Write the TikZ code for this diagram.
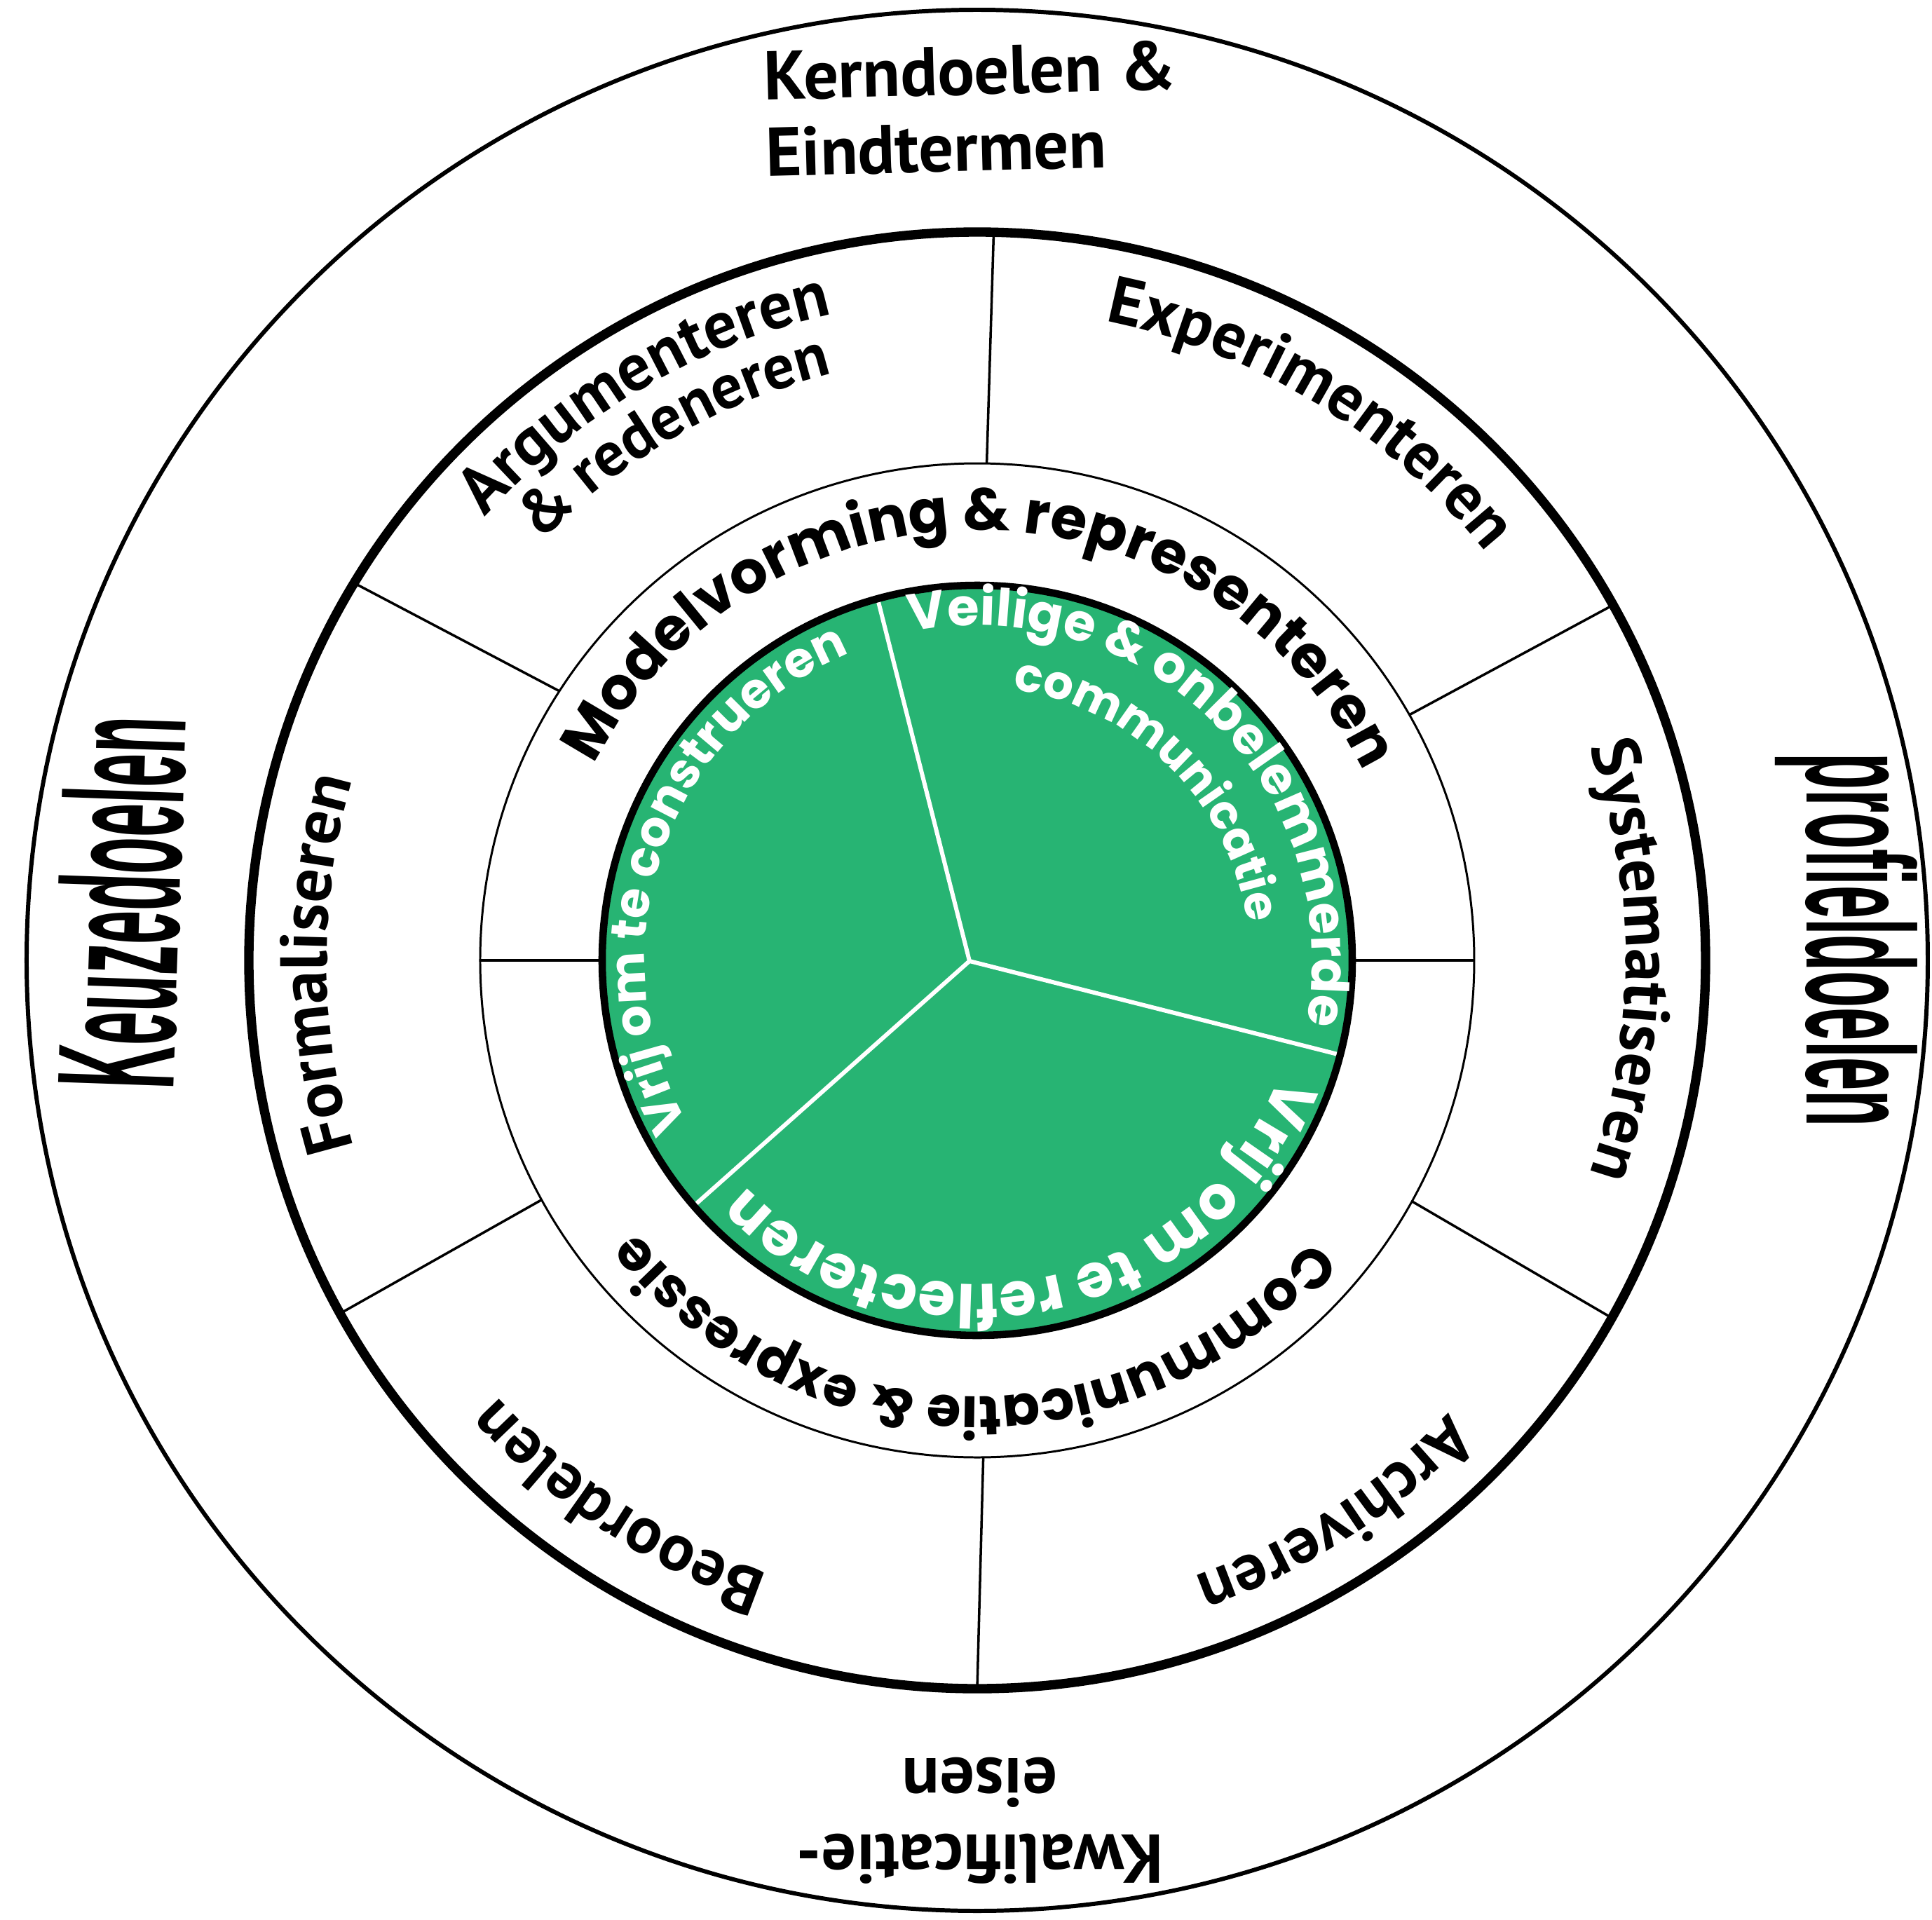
\documentclass[tikz,border=0pt]{standalone}
\usepackage{fontspec}
\usetikzlibrary{decorations.text}

\newfontfamily\ptsans{PT Sans}
\newfontfamily\geosans{Poppins}
\newfontfamily\narrowsans{Liberation Sans}[FakeStretch=0.36]
\newfontfamily\narrowersans{Liberation Sans}[FakeStretch=0.39]
\definecolor{wheelgreen}{RGB}{39,180,115}

\newcommand{\ringfont}{\ptsans\bfseries\fontsize{27}{30}\selectfont}
\newcommand{\bandfont}[1]{\geosans\bfseries\fontsize{#1}{#1}\selectfont}
\newcommand{\corefont}[1]{\color{white}\geosans\bfseries\fontsize{#1}{#1}\selectfont}

\tikzset{
  spoke/.style={line width=1pt},
  whitespoke/.style={white,line width=1.7pt},
  along/.style={decorate,decoration={text along path,text align=center,text={#1}}},
  goal/.style={inner sep=0pt,font=\ptsans\bfseries\fontsize{28}{31}\selectfont},
}

\begin{document}
\begin{tikzpicture}
 \useasboundingbox (-13.94,-13.68) rectangle (13.62,13.70);

 % rings
 \draw[line width=1.7pt] (0,0) circle (13.56);
 \draw[line width=3.8pt] (0,0) circle (10.39);
 \draw[line width=0.85pt] (0,0) circle (7.09);

 % spokes between the skills
 \draw[spoke] (88.9:7.09) -- (88.7:10.39);
 \draw[spoke] (147.2:7.09) -- (148.8:10.39);
 \draw[spoke] (208.8:7.09) -- (209:10.39);
 \draw[spoke] (-89.3:7.09) -- (-90:10.39);
 \draw[spoke] (-29:7.09) -- (-29.4:10.39);
 \draw[spoke] (29.6:7.09) -- (29.2:10.39);
 \draw[spoke] (180:5.35) -- (180:7.09);
 \draw[spoke] (0:5.35) -- (0:7.09);

 % green core
 \fill[wheelgreen] (0,0) circle (5.35);
 \coordinate (hub) at (-0.11,-0.01);
 \draw[whitespoke] (hub) -- (105.4:5.35);
 \draw[whitespoke] (hub) -- (-14.6:5.35);
 \draw[whitespoke] (hub) -- (220.9:5.35);
 \draw[line width=3pt] (0,0) circle (5.35);

 % skills
 \path[along={|\ringfont|Experimenteren}] (93.7:9.30) arc[start angle=93.7,end angle=23.7,radius=9.30];
 \path[along={|\ringfont|Argumenteren}] (150.3:9.45) arc[start angle=150.3,end angle=90.3,radius=9.45];
 \path[along={|\ptsans\bfseries\fontsize{25.5}{28}\selectfont|{\&} redeneren}] (150:8.62) arc[start angle=150,end angle=90,radius=8.62];
 \path[along={|\ringfont|Formaliseren}] (210.3:9.28) arc[start angle=210.3,end angle=150.3,radius=9.28];
 \path[along={|\ringfont|Systematiseren}] (30:9.25) arc[start angle=30,end angle=-30,radius=9.25];
 \path[along={|\ringfont|Archiveren}] (-27.2:9.32) arc[start angle=-27.2,end angle=-87.2,radius=9.32];
 \path[along={|\ringfont|Beoordelen}] (266.7:9.25) arc[start angle=266.7,end angle=206.7,radius=9.25];

 % inner band
 \path[along={|\bandfont{24}|Modelvorming {\&} representeren}] (174.5:6.14) arc[start angle=174.5,end angle=4.5,radius=6.14];
 \path[along={|\bandfont{22.5}|Communicatie {\&} expressie}] (-10.7:6.22) arc[start angle=-10.7,end angle=-170.7,radius=6.22];

 % core
 \path[along={|\corefont{20}|Vrij om te construeren}] (231:4.74) arc[start angle=231,end angle=91,radius=4.74];
 \path[along={|\corefont{21}|Veilige {\&} onbelemmerde}] (115.2:4.78) arc[start angle=115.2,end angle=-24.8,radius=4.78];
 \path[along={|\corefont{19}|communicatie}] (95.2:3.89) arc[start angle=95.2,end angle=-4.8,radius=3.89];
 \path[along={|\corefont{24.5}|Vrij om te reflecteren}] (-8.3:4.62) arc[start angle=-8.3,end angle=-148.3,radius=4.62];

 % goals
 \node[goal,align=left,rotate=1.5] (kern) at (-0.09,12.15) {Kerndoelen \&\\Eindtermen};
 \node[goal,align=center,rotate=180] (kwal) at (0.04,-12.27) {Kwalificatie-\\eisen};
 \node[goal,font=\narrowsans\bfseries\fontsize{68}{72}\selectfont,rotate=88] (keuze) at (-12.23,0.83) {Keuzedoelen};
 \node[goal,font=\narrowersans\bfseries\fontsize{62}{66}\selectfont,rotate=-90] (profiel) at (12.40,0.29) {profieldoelen};

\end{tikzpicture}
\end{document}
